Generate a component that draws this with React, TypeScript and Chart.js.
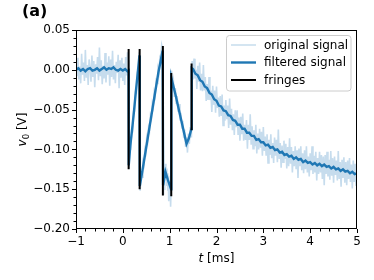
import React, { useEffect, useRef } from "react";
import { Chart, registerables } from "chart.js";
Chart.register(...registerables);

// ---------- data ----------
const seriesLabels = ["original signal", "filtered signal", "fringes"];

const originalSignal: [number, number][] = [
  [-1.0, 0.01], [-0.98, -0.008], [-0.96, 0.015], [-0.94, -0.012], [-0.92, 0.004], [-0.9, -0.017],
  [-0.88, 0.02], [-0.86, -0.006], [-0.84, 0.009], [-0.82, -0.014], [-0.8, 0.025], [-0.78, -0.01],
  [-0.76, 0.006], [-0.74, -0.019], [-0.72, 0.013], [-0.7, 0.002], [-0.68, -0.015], [-0.66, 0.018],
  [-0.64, -0.009], [-0.62, 0.011], [-0.6, -0.022], [-0.58, 0.007], [-0.56, -0.005], [-0.54, 0.016],
  [-0.52, -0.013], [-0.5, 0.028], [-0.48, -0.008], [-0.46, 0.012], [-0.44, -0.018], [-0.42, 0.005],
  [-0.4, -0.011], [-0.38, 0.021], [-0.36, -0.016], [-0.34, 0.009], [-0.32, -0.006], [-0.3, 0.017],
  [-0.28, -0.02], [-0.26, 0.013], [-0.24, -0.009], [-0.22, 0.024], [-0.2, -0.012], [-0.18, 0.006],
  [-0.16, -0.017], [-0.14, 0.01], [-0.12, -0.004], [-0.1, 0.019], [-0.08, -0.023], [-0.06, 0.012],
  [-0.04, -0.01], [-0.02, 0.015], [0.0, -0.014], [0.02, 0.008], [0.04, -0.019], [0.06, 0.016],
  [0.08, -0.007], [0.1, 0.022], [0.115, 0.012],
  [0.13, -0.124], [0.15, -0.098], [0.17, -0.099], [0.19, -0.074], [0.21, -0.076], [0.23, -0.052],
  [0.25, -0.052], [0.27, -0.028], [0.29, -0.029], [0.31, -0.004], [0.33, -0.005], [0.35, 0.022],
  [0.37, -0.152], [0.39, -0.131], [0.41, -0.135], [0.43, -0.116], [0.45, -0.12], [0.47, -0.1],
  [0.49, -0.104], [0.51, -0.085], [0.53, -0.09], [0.55, -0.072], [0.57, -0.076], [0.59, -0.057],
  [0.61, -0.061], [0.63, -0.042], [0.65, -0.047], [0.67, -0.028], [0.69, -0.033], [0.71, -0.014],
  [0.73, -0.017], [0.75, 0.001], [0.77, -0.004], [0.79, 0.015], [0.81, 0.012], [0.83, 0.031], [0.85, 0.026],
  [0.86, -0.156], [0.87, -0.138], [0.88, -0.15], [0.89, -0.128], [0.9, -0.14], [0.91, -0.118],
  [0.92, -0.137], [0.93, -0.124], [0.94, -0.146], [0.95, -0.13], [0.96, -0.152], [0.97, -0.133],
  [0.98, -0.165], [0.99, -0.14], [1.0, -0.158], [1.01, -0.142], [1.02, -0.172], [1.03, -0.15],
  [1.04, -0.001], [1.06, -0.022], [1.08, -0.014], [1.1, -0.034], [1.12, -0.023], [1.14, -0.043],
  [1.16, -0.033], [1.18, -0.053], [1.2, -0.043], [1.22, -0.064], [1.24, -0.054], [1.26, -0.074],
  [1.28, -0.064], [1.3, -0.086], [1.32, -0.075], [1.34, -0.097], [1.36, -0.085], [1.38, -0.104],
  [1.4, -0.08], [1.42, -0.093], [1.44, -0.072], [1.46, -0.084], [1.465, -0.068],
  [1.48, 0.011], [1.5, -0.012], [1.52, 0.014], [1.54, -0.011], [1.56, 0.0], [1.58, -0.024],
  [1.6, 0.005], [1.62, -0.015], [1.64, 0.009], [1.66, -0.026], [1.68, -0.005], [1.7, -0.027],
  [1.72, 0.006], [1.74, -0.026], [1.76, -0.009], [1.78, -0.039], [1.8, -0.018], [1.82, -0.038],
  [1.84, -0.009], [1.86, -0.038], [1.88, -0.026], [1.9, -0.053], [1.92, -0.02], [1.94, -0.044],
  [1.96, -0.026], [1.98, -0.054], [2.0, -0.021], [2.02, -0.048], [2.04, -0.035], [2.06, -0.059],
  [2.08, -0.033], [2.1, -0.058], [2.12, -0.031], [2.14, -0.07], [2.16, -0.045], [2.18, -0.064],
  [2.2, -0.038], [2.22, -0.062], [2.24, -0.045], [2.26, -0.073], [2.28, -0.036], [2.3, -0.069],
  [2.32, -0.049], [2.34, -0.076], [2.36, -0.056], [2.38, -0.082], [2.4, -0.051], [2.42, -0.072],
  [2.44, -0.051], [2.46, -0.081], [2.48, -0.06], [2.5, -0.089], [2.52, -0.059], [2.54, -0.081],
  [2.56, -0.055], [2.58, -0.089], [2.6, -0.069], [2.62, -0.088], [2.64, -0.063], [2.66, -0.099],
  [2.68, -0.069], [2.7, -0.088], [2.72, -0.056], [2.74, -0.094], [2.76, -0.071], [2.78, -0.099],
  [2.8, -0.076], [2.82, -0.096], [2.84, -0.069], [2.86, -0.105], [2.88, -0.08], [2.9, -0.1],
  [2.92, -0.074], [2.94, -0.098], [2.96, -0.078], [2.98, -0.108], [3.0, -0.072], [3.02, -0.102],
  [3.04, -0.084], [3.06, -0.108], [3.08, -0.081], [3.1, -0.117], [3.12, -0.088], [3.14, -0.107],
  [3.16, -0.081], [3.18, -0.111], [3.2, -0.092], [3.22, -0.117], [3.24, -0.085], [3.26, -0.108],
  [3.28, -0.088], [3.3, -0.116], [3.32, -0.075], [3.34, -0.112], [3.36, -0.092], [3.38, -0.123],
  [3.4, -0.095], [3.42, -0.116], [3.44, -0.089], [3.46, -0.112], [3.48, -0.093], [3.5, -0.124],
  [3.52, -0.097], [3.54, -0.121], [3.56, -0.086], [3.58, -0.118], [3.6, -0.097], [3.62, -0.129],
  [3.64, -0.102], [3.66, -0.121], [3.68, -0.096], [3.7, -0.125], [3.72, -0.101], [3.74, -0.136],
  [3.76, -0.099], [3.78, -0.121], [3.8, -0.096], [3.82, -0.126], [3.84, -0.105], [3.86, -0.13],
  [3.88, -0.101], [3.9, -0.125], [3.92, -0.096], [3.94, -0.129], [3.96, -0.109], [3.98, -0.134],
  [4.0, -0.105], [4.02, -0.126], [4.04, -0.096], [4.06, -0.131], [4.08, -0.108], [4.1, -0.129],
  [4.12, -0.103], [4.14, -0.139], [4.16, -0.111], [4.18, -0.131], [4.2, -0.103], [4.22, -0.129],
  [4.24, -0.107], [4.26, -0.137], [4.28, -0.109], [4.3, -0.145], [4.32, -0.107], [4.34, -0.131],
  [4.36, -0.103], [4.38, -0.134], [4.4, -0.113], [4.42, -0.138], [4.44, -0.102], [4.46, -0.133],
  [4.48, -0.111], [4.5, -0.142], [4.52, -0.109], [4.54, -0.132], [4.56, -0.114], [4.58, -0.139],
  [4.6, -0.102], [4.62, -0.137], [4.64, -0.116], [4.66, -0.147], [4.68, -0.113], [4.7, -0.136],
  [4.72, -0.11], [4.74, -0.142], [4.76, -0.116], [4.78, -0.145], [4.8, -0.114], [4.82, -0.137],
  [4.84, -0.111], [4.86, -0.141], [4.88, -0.119], [4.9, -0.149], [4.92, -0.114], [4.94, -0.141],
  [4.96, -0.118], [4.98, -0.146], [5.0, -0.118],
];

const filteredSignal: [number, number][] = [
  [-1.0, 0.0], [-0.95, 0.002], [-0.9, -0.001], [-0.85, 0.001], [-0.8, -0.002], [-0.75, 0.001],
  [-0.7, 0.002], [-0.65, -0.001], [-0.6, 0.0], [-0.55, 0.002], [-0.5, -0.001], [-0.45, 0.001],
  [-0.4, 0.003], [-0.35, 0.0], [-0.3, 0.002], [-0.25, 0.001], [-0.2, 0.003], [-0.15, 0.0],
  [-0.1, -0.001], [-0.05, 0.001], [0.0, -0.001], [0.05, 0.001], [0.1, -0.002], [0.123, -0.001],
  [0.126, -0.12], [0.16, -0.095], [0.2, -0.074], [0.24, -0.051], [0.28, -0.026], [0.32, -0.003], [0.355, 0.018],
  [0.362, -0.146], [0.44, -0.119], [0.52, -0.09], [0.6, -0.061], [0.68, -0.032], [0.76, -0.003], [0.85, 0.024],
  [0.86, -0.145], [0.91, -0.128], [0.96, -0.138], [1.03, -0.15],
  [1.036, -0.01], [1.12, -0.03], [1.2, -0.051], [1.28, -0.072], [1.36, -0.093], [1.41, -0.086], [1.465, -0.074],
  [1.472, 0.002], [1.5, 0.001], [1.55, -0.005], [1.6, -0.007], [1.65, -0.013], [1.7, -0.015],
  [1.75, -0.021], [1.8, -0.023], [1.85, -0.029], [1.9, -0.031], [1.95, -0.037], [2.0, -0.039],
  [2.05, -0.045], [2.1, -0.046], [2.15, -0.051], [2.2, -0.052], [2.25, -0.057], [2.3, -0.058],
  [2.35, -0.063], [2.4, -0.064], [2.45, -0.069], [2.5, -0.069], [2.55, -0.074], [2.6, -0.074],
  [2.65, -0.079], [2.7, -0.079], [2.75, -0.083], [2.8, -0.083], [2.85, -0.088], [2.9, -0.087],
  [2.95, -0.091], [3.0, -0.091], [3.05, -0.095], [3.1, -0.094], [3.15, -0.098], [3.2, -0.097],
  [3.25, -0.101], [3.3, -0.1], [3.35, -0.104], [3.4, -0.103], [3.45, -0.107], [3.5, -0.106],
  [3.55, -0.109], [3.6, -0.108], [3.65, -0.112], [3.7, -0.11], [3.75, -0.113], [3.8, -0.112],
  [3.85, -0.116], [3.9, -0.114], [3.95, -0.117], [4.0, -0.116], [4.05, -0.119], [4.1, -0.117],
  [4.15, -0.12], [4.2, -0.118], [4.25, -0.121], [4.3, -0.119], [4.35, -0.122], [4.4, -0.121],
  [4.45, -0.124], [4.5, -0.122], [4.55, -0.125], [4.6, -0.124], [4.65, -0.127], [4.7, -0.125],
  [4.75, -0.128], [4.8, -0.127], [4.85, -0.13], [4.9, -0.128], [4.95, -0.131], [5.0, -0.13],
];

const fringeTimes = [0.124, 0.359, 0.855, 1.034, 1.468];
const fringeTops = [0.026, 0.026, 0.03, -0.004, 0.008];
const fringeBottoms = [-0.125, -0.15, -0.158, -0.159, -0.076];

const xTickValues = [-1, 0, 1, 2, 3, 4, 5];
const xTickLabels = ["\u22121", "0", "1", "2", "3", "4", "5"];
const yTickValues = [0.05, 0.0, -0.05, -0.1, -0.15, -0.2];
const yTickLabels = ["0.05", "0.00", "\u22120.05", "\u22120.10", "\u22120.15", "\u22120.20"];

const COLORS = {
  original: "rgb(198,220,237)",
  filtered: "#1f77b4",
  fringes: "#000000",
};
const FONT = "'DejaVu Sans', sans-serif";

const decorPlugin = {
  id: "decor",
  afterDatasetsDraw(chart: any) {
    const ctx = chart.ctx as CanvasRenderingContext2D;
    const { left, right, top, bottom } = chart.chartArea;
    const xs = chart.scales.x;
    const ys = chart.scales.y;
    ctx.save();
    ctx.strokeStyle = "#000";
    ctx.lineWidth = 1;
    ctx.strokeRect(left + 0.5, top + 0.5, right - left - 1, bottom - top - 1);

    const tick = (x1: number, y1: number, x2: number, y2: number) => {
      ctx.beginPath();
      ctx.moveTo(x1, y1);
      ctx.lineTo(x2, y2);
      ctx.stroke();
    };
    for (let i = 0; i <= 30; i++) {
      const v = xs.min + i * 0.2;
      const px = Math.round(xs.getPixelForValue(v)) + 0.5;
      const major = i % 5 === 0;
      tick(px, bottom, px, bottom + (major ? 4 : 2.5));
    }
    for (let i = 0; i <= 25; i++) {
      const v = ys.min + i * 0.01;
      const py = Math.round(ys.getPixelForValue(v)) + 0.5;
      const major = i % 5 === 0;
      tick(left, py, left - (major ? 4 : 2.5), py);
    }

    ctx.fillStyle = "#000";
    ctx.textBaseline = "alphabetic";
    ctx.font = `italic 12px ${FONT}`;
    const wT = ctx.measureText("t").width;
    ctx.font = `12px ${FONT}`;
    const wMs = ctx.measureText(" [ms]").width;
    const cx = (left + right) / 2;
    const sx = cx - (wT + wMs) / 2;
    ctx.font = `italic 12px ${FONT}`;
    ctx.fillText("t", sx, 262);
    ctx.font = `12px ${FONT}`;
    ctx.fillText(" [ms]", sx + wT, 262);

    ctx.save();
    ctx.translate(26, (top + bottom) / 2);
    ctx.rotate(-Math.PI / 2);
    ctx.font = `italic 12px ${FONT}`;
    const wv = ctx.measureText("v").width;
    ctx.font = `8.5px ${FONT}`;
    const w0 = ctx.measureText("0").width;
    ctx.font = `12px ${FONT}`;
    const wV = ctx.measureText(" [V]").width;
    const yx = -(wv + w0 + wV) / 2;
    ctx.font = `italic 12px ${FONT}`;
    ctx.fillText("v", yx, 0);
    ctx.font = `8.5px ${FONT}`;
    ctx.fillText("0", yx + wv, 3);
    ctx.font = `12px ${FONT}`;
    ctx.fillText(" [V]", yx + wv + w0, 0);
    ctx.restore();

    ctx.font = `bold 16px ${FONT}`;
    ctx.fillText("(a)", 22, 16);

    const lx = right - 130.5;
    const ly = top + 5.5;
    const lw = 124.5;
    const lh = 55.5;
    ctx.beginPath();
    (ctx as any).roundRect(lx, ly, lw, lh, 3);
    ctx.fillStyle = "rgba(255,255,255,0.8)";
    ctx.fill();
    ctx.strokeStyle = "#cccccc";
    ctx.lineWidth = 1;
    ctx.stroke();
    const rowY = [ly + 9.5, ly + 27, ly + 44.5];
    const styles = [
      { c: COLORS.original, w: 1.5 },
      { c: COLORS.filtered, w: 2.4 },
      { c: COLORS.fringes, w: 2 },
    ];
    ctx.font = `12px ${FONT}`;
    ctx.textBaseline = "middle";
    seriesLabels.forEach((lab, i) => {
      ctx.strokeStyle = styles[i].c;
      ctx.lineWidth = styles[i].w;
      ctx.beginPath();
      ctx.moveTo(lx + 4.5, rowY[i]);
      ctx.lineTo(lx + 29.5, rowY[i]);
      ctx.stroke();
      ctx.fillStyle = "#000";
      ctx.fillText(lab, lx + 37.5, rowY[i] + 0.5);
    });
    ctx.restore();
  },
};

export default function App() {
  const ref = useRef<HTMLCanvasElement | null>(null);
  useEffect(() => {
    if (!ref.current) return;
    const fringeData: any[] = [];
    fringeTimes.forEach((t, i) => {
      fringeData.push({ x: t, y: fringeTops[i] });
      fringeData.push({ x: t, y: fringeBottoms[i] });
      fringeData.push({ x: t, y: null });
    });
    const chart = new Chart(ref.current, {
      type: "line",
      data: {
        datasets: [
          {
            label: seriesLabels[0],
            data: originalSignal.map(([x, y]) => ({ x, y })),
            borderColor: COLORS.original,
            borderWidth: 1.6,
            pointRadius: 0,
            tension: 0,
            order: 3,
          },
          {
            label: seriesLabels[1],
            data: filteredSignal.map(([x, y]) => ({ x, y })),
            borderColor: COLORS.filtered,
            borderWidth: 2.4,
            pointRadius: 0,
            tension: 0,
            order: 2,
          },
          {
            label: seriesLabels[2],
            data: fringeData,
            borderColor: COLORS.fringes,
            borderWidth: 2,
            pointRadius: 0,
            tension: 0,
            spanGaps: false,
            order: 1,
          },
        ],
      },
      options: {
        animation: false,
        responsive: false,
        devicePixelRatio: 1,
        layout: { padding: { top: 30, right: 17, left: 0, bottom: 0 } },
        plugins: {
          legend: { display: false },
          tooltip: { enabled: false },
          title: { display: false },
        },
        scales: {
          x: {
            type: "linear",
            min: -1,
            max: 5,
            grid: { display: false, drawTicks: false },
            border: { display: false },
            afterBuildTicks: (s: any) => {
              s.ticks = xTickValues.map((v) => ({ value: v }));
            },
            afterFit: (s: any) => {
              s.height = 51;
            },
            ticks: {
              color: "#000",
              font: { family: FONT, size: 12 },
              padding: 6,
              maxRotation: 0,
              autoSkip: false,
              callback: (_v: any, i: number) => xTickLabels[i],
            },
          },
          y: {
            type: "linear",
            min: -0.2,
            max: 0.05,
            grid: { display: false, drawTicks: false },
            border: { display: false },
            afterBuildTicks: (s: any) => {
              s.ticks = yTickValues.map((v) => ({ value: v }));
            },
            afterFit: (s: any) => {
              s.width = 76;
            },
            ticks: {
              color: "#000",
              font: { family: FONT, size: 12 },
              padding: 6,
              autoSkip: false,
              callback: (_v: any, i: number) => yTickLabels[i],
            },
          },
        },
      },
      plugins: [decorPlugin],
    });
    return () => chart.destroy();
  }, []);
  return (
    <div style={{ position: "absolute", left: 0, top: 0, width: 374, height: 280, background: "#fff" }}>
      <canvas ref={ref} width={374} height={280} style={{ display: "block" }} />
    </div>
  );
}
